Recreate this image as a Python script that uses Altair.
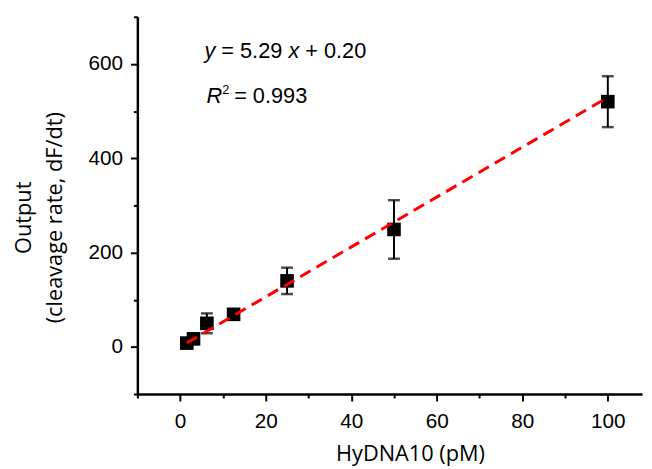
import altair as alt
import pandas as pd

# HyDNA10 concentrations (pM) and measured output
conc = [1.5625, 3.125, 6.25, 12.5, 25, 50, 100]
rate = [8, 17, 50, 69, 140, 249, 520]
err = [6, 6, 21, 8, 28, 62, 54]

# linear fit
slope = 5.29
intercept = 0.20
fit_x = [1.5625, 100]

x_ticks = list(range(-10, 101, 10))
y_ticks = list(range(-100, 701, 100))

df = pd.DataFrame({
    "conc": conc,
    "rate": rate,
    "lo": [r - e for r, e in zip(rate, err)],
    "hi": [r + e for r, e in zip(rate, err)],
})
fit_df = pd.DataFrame({"conc": fit_x, "rate": [slope * v + intercept for v in fit_x]})

TICK_FONT = "Liberation Sans"
TITLE_FONT = "Open Sans"

xscale = alt.Scale(domain=[-10, 108], nice=False, zero=False)
yscale = alt.Scale(domain=[-100, 700], nice=False, zero=False)

xaxis = alt.Axis(
    values=x_ticks,
    labelExpr="datum.value % 20 === 0 ? datum.label : ''",
    tickSize={"condition": {"test": "datum.value % 20 === 0", "value": 7}, "value": 4},
    labelPadding=10,
    labelOverlap=False,
    labelFlush=False,
    title="HyDNA10 (pM)",
    titleX=276,
    titleY=67,
    titleAlign="center",
    titleBaseline="alphabetic",
)
yaxis = alt.Axis(
    values=y_ticks,
    labelExpr="datum.value % 200 === 0 ? datum.label : ''",
    tickSize={"condition": {"test": "datum.value % 200 === 0", "value": 7}, "value": 4},
    labelPadding=8,
    labelOverlap=False,
    labelFlush=False,
    title=["Output", "(cleavage rate, dF/dt)"],
    titleAngle=270,
    titleX=-115,
    titleY=203,
    titleAlign="center",
    titleBaseline="middle",
    titleLineHeight=31,
)

base = alt.Chart(df)

bars = base.mark_rule(color="black", strokeWidth=2).encode(
    x=alt.X("conc:Q", scale=xscale, axis=xaxis),
    y=alt.Y("lo:Q", scale=yscale, axis=yaxis),
    y2="hi:Q",
)
cap_lo = base.mark_tick(color="black", thickness=2.5, size=12, orient="horizontal").encode(
    x="conc:Q", y="lo:Q"
)
cap_hi = base.mark_tick(color="black", thickness=2.5, size=12, orient="horizontal").encode(
    x="conc:Q", y="hi:Q"
)
points = base.mark_point(shape="square", filled=True, color="black", size=190, opacity=1).encode(
    x="conc:Q", y="rate:Q"
)
fit = alt.Chart(fit_df).mark_line(color="#ff0000", strokeWidth=3, strokeDash=[12, 7]).encode(
    x="conc:Q", y="rate:Q"
)

one = alt.Data(values=[{}])
F = 22


def txt(s, x, y, size=F, style="normal"):
    return alt.Chart(one).mark_text(
        text=s, font=TICK_FONT, fontSize=size, fontStyle=style, align="left",
        baseline="alphabetic", color="black",
    ).encode(x=alt.value(x), y=alt.value(y))


X0 = 68
X1 = 70
L1 = 42
L2 = 87
annot = [
    txt("y", X0, L1, style="italic"),
    txt("= 5.29", X0 + 17, L1),
    txt("x", X0 + 85, L1, style="italic"),
    txt("+ 0.20", X0 + 102, L1),
    txt("R", X1, L2, style="italic"),
    txt("2", X1 + 16, L2 - 9, size=13),
    txt("= 0.993", X1 + 28, L2),
]

chart = alt.layer(bars, cap_lo, cap_hi, points, fit, *annot).properties(
    width=511,
    height=382,
    autosize=alt.AutoSizeParams(type="none"),
    padding={"left": 131, "top": 6, "right": 2, "bottom": 72},
).configure_view(stroke=None).configure_axis(
    grid=False,
    domainColor="black",
    domainWidth=2.5,
    tickColor="black",
    tickWidth=2,
    labelColor="black",
    labelFont=TICK_FONT,
    labelFontSize=21,
    titleFont=TITLE_FONT,
    titleFontSize=22,
    titleFontWeight="normal",
    titleColor="black",
)

chart.save("out.html", embed_options={"renderer": "svg", "actions": False})
